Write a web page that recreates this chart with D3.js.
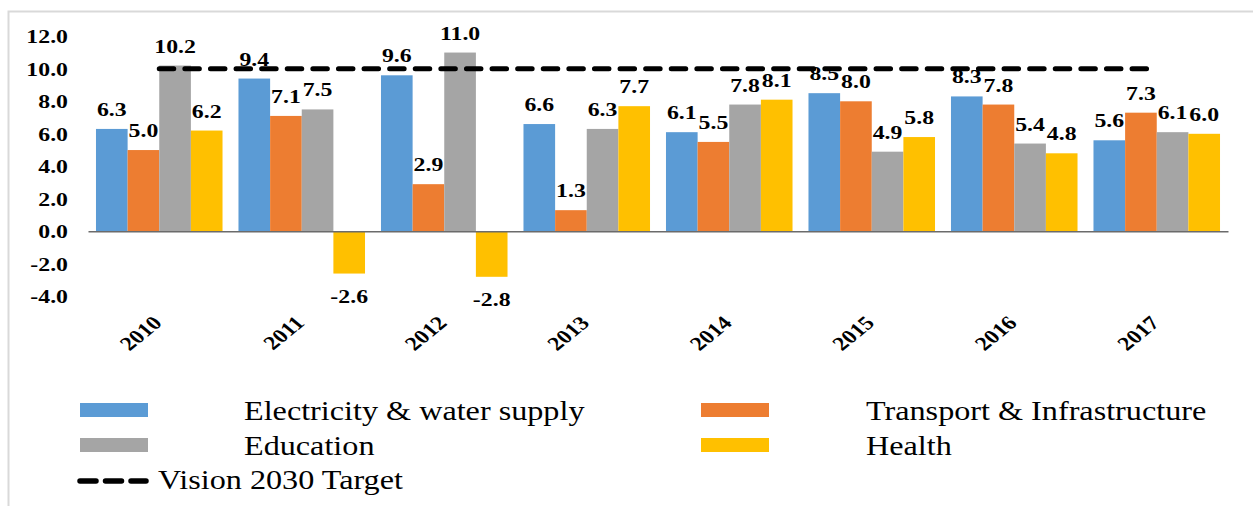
<!DOCTYPE html>
<html>
<head>
<meta charset="utf-8">
<script src="https://cdn.jsdelivr.net/npm/d3@7"></script>
<style>
  html, body { margin: 0; padding: 0; background: #fff; }
  svg { display: block; }
</style>
</head>
<body>
<svg id="chart" width="1253" height="506"></svg>
<script>
// ---- data ----
const years = ["2010", "2011", "2012", "2013", "2014", "2015", "2016", "2017"];
const seriesNames = ["Electricity & water supply", "Transport & Infrastructure", "Education", "Health"];
const electricity = [6.3, 9.4, 9.6, 6.6, 6.1, 8.5, 8.3, 5.6];
const transport   = [5.0, 7.1, 2.9, 1.3, 5.5, 8.0, 7.8, 7.3];
const education   = [10.2, 7.5, 11.0, 6.3, 7.8, 4.9, 5.4, 6.1];
const health      = [6.2, -2.6, -2.8, 7.7, 8.1, 5.8, 4.8, 6.0];
const target      = [10, 10, 10, 10, 10, 10, 10, 10];
const targetName  = "Vision 2030 Target";
const yTicks = [-4, -2, 0, 2, 4, 6, 8, 10, 12];
const colors = ["#5B9BD5", "#ED7D31", "#A5A5A5", "#FFC000"];

const seriesValues = [electricity, transport, education, health];
const FONT = "'Liberation Serif', 'Times New Roman', Tinos, serif";
const fmt = v => d3.format(".1f")(v).replace("\u2212", "-");

const svg = d3.select("#chart");
const SX = 1.22;   // horizontal stretch of bold labels
const LSX = 1.15;  // horizontal stretch of legend labels

// border
svg.append("rect")
  .attr("x", 8.5).attr("y", 11.5).attr("width", 1400).attr("height", 700)
  .attr("fill", "none").attr("stroke", "#d9d9d9").attr("stroke-width", 2);

// scales
const x0 = d3.scaleBand().domain(years).range([88, 1228]).paddingInner(0.112).paddingOuter(0.056);
const x1 = d3.scaleBand().domain(seriesNames).range([0, x0.bandwidth()]);
const y = d3.scaleLinear().domain([-4, 12]).range([296.3, 36.3]);

// y axis labels
const yAxis = svg.append("g")
  .attr("transform", "translate(68,0)")
  .call(d3.axisLeft(y).tickValues(yTicks).tickFormat(fmt).tickSize(0).tickPadding(0));
yAxis.attr("font-family", null);
yAxis.select(".domain").remove();
yAxis.selectAll("text")
  .attr("x", 0).attr("dy", "0.34em")
  .attr("transform", `scale(${SX},1)`)
  .style("font-family", FONT)
  .style("font-weight", "bold").style("font-size", "19.5px").attr("fill", "#000");

// bars
const groups = svg.append("g").selectAll("g")
  .data(years).join("g")
  .attr("transform", d => `translate(${x0(d)},0)`);

groups.selectAll("rect")
  .data((d, i) => seriesNames.map((s, k) => ({ s, k, v: seriesValues[k][i] })))
  .join("rect")
  .attr("x", d => x1(d.s))
  .attr("width", x1.bandwidth())
  .attr("y", d => y(Math.max(0, d.v)))
  .attr("height", d => Math.abs(y(d.v) - y(0)))
  .attr("fill", d => colors[d.k]);

// x axis (zero line + year labels)
const xAxis = svg.append("g")
  .attr("transform", `translate(0,${y(0)})`)
  .call(d3.axisBottom(x0).tickSize(0).tickSizeOuter(0));
xAxis.attr("font-family", null);
xAxis.select(".domain").attr("stroke", "#6b6b6b").attr("stroke-width", 1.5);
xAxis.selectAll("text")
  .attr("x", 0).attr("y", 0).attr("dy", 0)
  .attr("text-anchor", "end")
  .attr("transform", `translate(4,${324 - y(0)}) scale(${SX},1) rotate(-45)`)
  .style("font-family", FONT)
  .style("font-weight", "bold").style("font-size", "19.5px").attr("fill", "#000");

// data labels
groups.selectAll("text.val")
  .data((d, i) => seriesNames.map((s, k) => ({ s, k, v: seriesValues[k][i] })))
  .join("text")
  .attr("class", "val")
  .attr("text-anchor", "middle")
  .attr("transform", d => {
    const cx = x1(d.s) + x1.bandwidth() / 2;
    const ty = d.v >= 0 ? y(d.v) - 13 : y(d.v) + 29.5;
    return `translate(${cx},${ty}) scale(${SX},1)`;
  })
  .style("font-family", FONT)
  .style("font-weight", "bold").style("font-size", "19.5px").attr("fill", "#000")
  .text(d => fmt(d.v));

// target line
const line = d3.line()
  .x((d, i) => x0(years[i]) + x0.bandwidth() / 2)
  .y(d => y(d));
svg.append("path")
  .datum(target)
  .attr("d", line)
  .attr("fill", "none").attr("stroke", "#000").attr("stroke-width", 5)
  .attr("stroke-dasharray", "14.5,11.1").attr("stroke-linecap", "round");

// legend
const legend = svg.append("g");
const legendItems = [
  { name: seriesNames[0], color: colors[0], sx: 80, tx: 244, yb: 403 },
  { name: seriesNames[1], color: colors[1], sx: 701, tx: 866, yb: 403 },
  { name: seriesNames[2], color: colors[2], sx: 80, tx: 244, yb: 438 },
  { name: seriesNames[3], color: colors[3], sx: 701, tx: 866, yb: 438 }
];
legendItems.forEach(it => {
  legend.append("rect")
    .attr("x", it.sx).attr("y", it.yb).attr("width", 68).attr("height", 14)
    .attr("fill", it.color);
  legend.append("text")
    .attr("transform", `translate(${it.tx},${it.yb + 17}) scale(${LSX},1)`)
    .style("font-family", FONT)
    .style("font-size", "28px").attr("fill", "#000")
    .text(it.name);
});
legend.append("line")
  .attr("x1", 80).attr("x2", 146).attr("y1", 481).attr("y2", 481)
  .attr("stroke", "#000").attr("stroke-width", 5.5)
  .attr("stroke-dasharray", "16,9.5").attr("stroke-linecap", "round");
legend.append("text")
  .attr("transform", `translate(158,489) scale(${LSX},1)`)
  .style("font-family", FONT)
  .style("font-size", "28px").attr("fill", "#000")
  .text(targetName);
</script>
</body>
</html>
